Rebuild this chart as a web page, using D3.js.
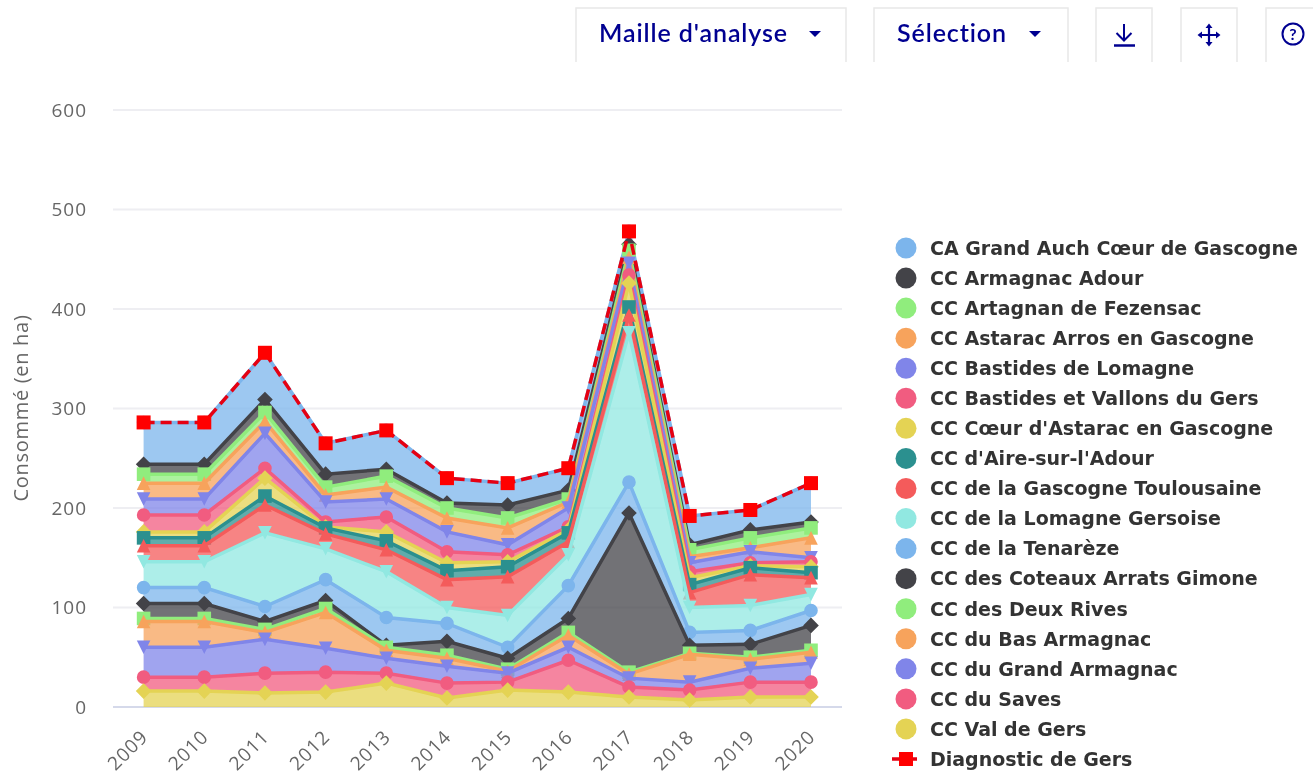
<!DOCTYPE html>
<html lang="fr">
<head>
<meta charset="utf-8">
<title>Consommé (en ha)</title>
<script src="https://cdn.jsdelivr.net/npm/d3@7/dist/d3.min.js"></script>
<style>
html,body{margin:0;padding:0;background:#fff;overflow:hidden}
svg{display:block;font-family:"DejaVu Sans",sans-serif}
#plot{filter:blur(0.5px)}
</style>
</head>
<body>
<svg id="chart" width="1313" height="775"></svg>
<script>
const years = ["2009","2010","2011","2012","2013","2014","2015","2016","2017","2018","2019","2020"];
const yTicks = [0,100,200,300,400,500,600];
const seriesNames = ["CA Grand Auch Cœur de Gascogne","CC Armagnac Adour","CC Artagnan de Fezensac","CC Astarac Arros en Gascogne","CC Bastides de Lomagne","CC Bastides et Vallons du Gers","CC Cœur d'Astarac en Gascogne","CC d'Aire-sur-l'Adour","CC de la Gascogne Toulousaine","CC de la Lomagne Gersoise","CC de la Tenarèze","CC des Coteaux Arrats Gimone","CC des Deux Rives","CC du Bas Armagnac","CC du Grand Armagnac","CC du Saves","CC Val de Gers"];
const grandAuch      = [42,42,47,31,39,25,22,22,13,29,20,39];
const armagnacAdour  = [10,10,13,13,7,5,13,9,6,5,8,6];
const artagnan       = [9,9,9,8,11,10,10,3,7,7,10,10];
const astarac        = [16,16,12,7,12,14,17,6,6,6,4,20];
const bastidesLomagne= [16,16,35,20,18,20,10,19,12,9,11,4];
const bastidesVallons= [17,17,10,5,15,11,7,3,8,6,3,5];
const coeurAstarac   = [6,6,18,1,9,8,5,3,24,7,2,6];
const aire           = [8,8,9,6,9,9,10,9,8,8,7,5];
const gascogneToul   = [16,16,28,15,22,28,39,13,18,15,31,17];
const lomagneGers    = [26,26,74,31,46,16,32,31,150,25,25,16];
const tenareze       = [16,16,15,21,28,18,11,33,31,13,14,15];
const coteaux        = [15,15,8,8,2,14,11,14,160,8,13,25];
const deuxRives      = [3,3,3,4,3,3,2,3,2,1,2,2];
const basArmagnac    = [26,26,7,36,8,8,2,12,4,28,9,11];
const grandArmagnac  = [30,30,34,24,15,17,9,13,9,8,14,19];
const saves          = [14,14,20,20,10,15,8,32,10,10,15,15];
const valDeGers      = [16,16,14,15,24,9,17,15,10,7,10,10];
const diagnosticName = "Diagnostic de Gers";
const diagnostic     = [286,286,356,265,278,230,225,240,478,192,198,225];
const seriesValues = [grandAuch,armagnacAdour,artagnan,astarac,bastidesLomagne,bastidesVallons,coeurAstarac,aire,gascogneToul,lomagneGers,tenareze,coteaux,deuxRives,basArmagnac,grandArmagnac,saves,valDeGers];
const palette = ["#7cb5ec","#434348","#90ed7d","#f7a35c","#8085e9","#f15c80","#e4d354","#2b908f","#f45b5b","#91e8e1"];

const R = 6.8;
const markerPaths = [
  d3.symbol().type(d3.symbolCircle).size(Math.PI*R*R)(),
  `M0,${-R-1}L${R+1},0L0,${R+1}L${-R-1},0Z`,
  `M${-R},${-R}H${R}V${R}H${-R}Z`,
  `M0,${-R}L${R},${R}H${-R}Z`,
  `M${-R},${-R}H${R}L0,${R}Z`
];

const svg = d3.select("#chart");
const plot = svg.append("g").attr("id","plot");
const x = d3.scalePoint().domain(years).range([143.6,811]);
const y = d3.scaleLinear().domain([0,600]).range([707,110]);

// grid
plot.append("g").selectAll("line").data(yTicks.filter(d=>d>0)).join("line")
  .attr("x1",113).attr("x2",842).attr("y1",d=>y(d)).attr("y2",d=>y(d))
  .attr("stroke","#eeeef2").attr("stroke-width",2);

// axes
const yAxis = plot.append("g").attr("transform","translate(113,0)")
  .call(d3.axisLeft(y).tickValues(yTicks).tickSize(0).tickPadding(26));
yAxis.select(".domain").remove();
yAxis.selectAll("text").attr("font-family","'Open Sans',sans-serif").attr("font-size",19).attr("letter-spacing",1).attr("fill","#666");

const xAxis = plot.append("g").attr("transform","translate(0,707)")
  .call(d3.axisBottom(x).tickSize(0).tickPadding(0));
xAxis.select(".domain").remove();
xAxis.selectAll("text").attr("font-family","'Open Sans',sans-serif").attr("font-size",19).attr("letter-spacing",1).attr("fill","#666")
  .attr("text-anchor","end").attr("dy",0).attr("transform","translate(5,31) rotate(-45)");
plot.append("line").attr("x1",113).attr("x2",842).attr("y1",y(0)).attr("y2",y(0)).attr("stroke","#d5d9ea").attr("stroke-width",2);

plot.append("text").attr("transform","translate(28,408) rotate(-90)").attr("text-anchor","middle")
  .attr("font-family","'Open Sans',sans-serif").attr("font-size",20).attr("letter-spacing",0.7).attr("fill","#666").text("Consommé (en ha)");

// stacked data: first series on top of stack
const rows = years.map((yr,i)=>{const r={year:yr};seriesNames.forEach((n,j)=>r[n]=seriesValues[j][i]);return r;});
const stacked = d3.stack().keys(seriesNames.slice().reverse())(rows);
const byName = new Map(stacked.map(s=>[s.key,s]));
const area = d3.area().x(d=>x(d.data.year)).y0(d=>y(d[0])).y1(d=>y(d[1]));
const line = d3.line().x(d=>x(d.data.year)).y(d=>y(d[1]));

seriesNames.forEach((name,i)=>{
  const s = byName.get(name), col = palette[i%palette.length];
  const g = plot.append("g");
  g.append("path").attr("d",area(s)).attr("fill",col).attr("fill-opacity",0.75);
  g.append("path").attr("d",line(s)).attr("fill","none").attr("stroke",col).attr("stroke-width",3.5);
  g.selectAll("path.m").data(s).join("path").attr("class","m")
    .attr("d",markerPaths[i%markerPaths.length])
    .attr("fill",col)
    .attr("transform",d=>`translate(${x(d.data.year)},${y(d[1])})`);
});

// diagnostic line
const dl = d3.line().x((d,i)=>x(years[i])).y(d=>y(d));
plot.append("path").attr("d",dl(diagnostic)).attr("fill","none").attr("stroke","#e60012").attr("stroke-width",3.5).attr("stroke-dasharray","11,6");
plot.selectAll("rect.diag").data(diagnostic).join("rect").attr("class","diag")
  .attr("x",(d,i)=>x(years[i])-7).attr("y",d=>y(d)-7).attr("width",14).attr("height",14).attr("fill","#ff0000");

// legend
const legendY = d3.scaleLinear().domain([0,17]).range([248,759]);
const legend = plot.append("g");
const lf = 19;
seriesNames.forEach((name,i)=>{
  legend.append("circle").attr("cx",906).attr("cy",legendY(i)).attr("r",10.5).attr("fill",palette[i%palette.length]);
  legend.append("text").attr("x",930).attr("y",legendY(i)).attr("dy","0.36em")
    .attr("font-family","'DejaVu Sans',sans-serif").attr("font-weight","bold").attr("font-size",lf).attr("fill","#333").text(name);
});
legend.append("line").attr("x1",892).attr("x2",917).attr("y1",legendY(17)).attr("y2",legendY(17)).attr("stroke","#e60012").attr("stroke-width",3.5);
legend.append("rect").attr("x",899).attr("y",legendY(17)-7).attr("width",14).attr("height",14).attr("fill","#ff0000");
legend.append("text").attr("x",930).attr("y",legendY(17)).attr("dy","0.36em")
  .attr("font-family","'DejaVu Sans',sans-serif").attr("font-weight","bold").attr("font-size",lf).attr("fill","#333").text(diagnosticName);

// toolbar
const blue = "#000091";
const buttons = [[576,270,"Maille d'analyse",31],[874,194,"Sélection",33],[1096,56,"",0],[1181,56,"",0],[1266,60,"",0]];
const tb = plot.append("g");
buttons.forEach(([bx,w,label,caret])=>{
  tb.append("path").attr("d",`M${bx},62V8H${bx+w}V62`).attr("fill","none").attr("stroke","#e8e8e8").attr("stroke-width",1.5);
  if(label){
    tb.append("text").attr("x",bx+23).attr("y",42).attr("font-family","Lato,Inter,sans-serif").attr("font-weight","600")
      .attr("font-size",25).attr("letter-spacing",0.9).attr("fill",blue).text(label);
    const cx = bx+w-caret;
    tb.append("path").attr("d",`M${cx-6},31h12l-6,6z`).attr("fill",blue);
  }
});
tb.append("path").attr("d","M1124,24V40M1116.5,33l7.5,7.5l7.5,-7.5").attr("fill","none").attr("stroke",blue).attr("stroke-width",2);
tb.append("path").attr("d","M1114,45.5H1135").attr("stroke",blue).attr("stroke-width",2.5);
tb.append("path").attr("d","M1209,27V43M1201,35H1217").attr("stroke",blue).attr("stroke-width",2.2);
tb.append("path").attr("d","M1205.5,28l3.5,-4.5l3.5,4.5zM1205.5,42l3.5,4.5l3.5,-4.5zM1202,31.5l-4.5,3.5l4.5,3.5zM1216,31.5l4.5,3.5l-4.5,3.5z").attr("fill",blue);
tb.append("circle").attr("cx",1293).attr("cy",34).attr("r",10.5).attr("fill","none").attr("stroke",blue).attr("stroke-width",2);
tb.append("text").attr("x",1293).attr("y",40).attr("text-anchor","middle").attr("font-family","Lato,sans-serif").attr("font-weight","700").attr("font-size",16).attr("fill",blue).text("?");
</script>
</body>
</html>
